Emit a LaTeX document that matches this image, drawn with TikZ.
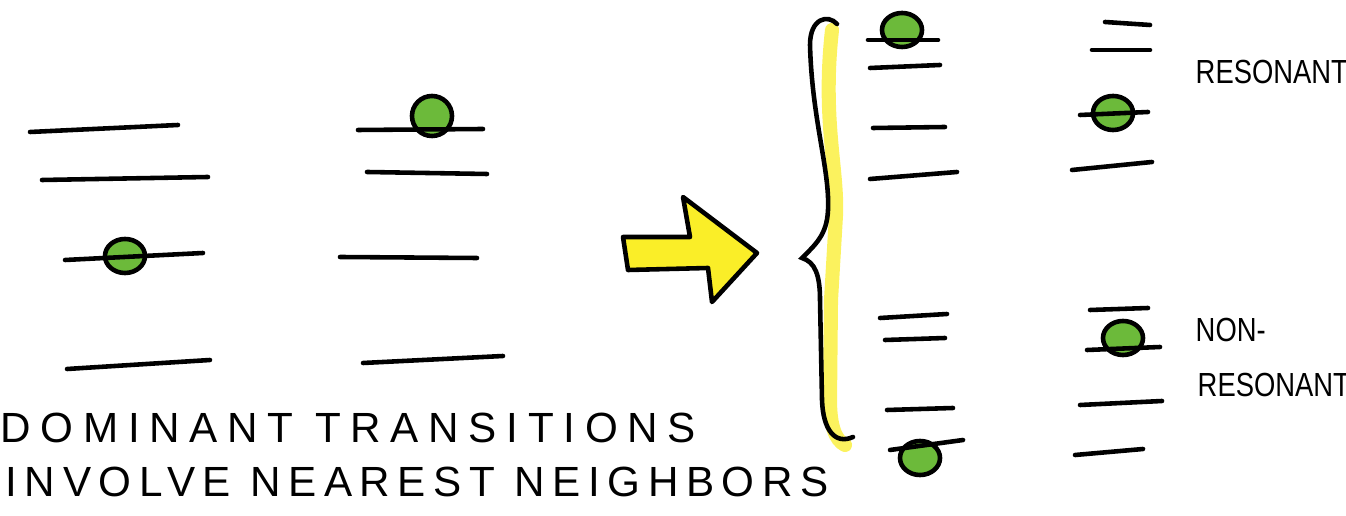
\documentclass[tikz,border=0pt]{standalone}
\usepackage{fontspec}
\usepackage{graphicx}
\setmainfont{Liberation Sans}
\usetikzlibrary{shapes.geometric}
\definecolor{dotgreen}{RGB}{108,186,58}
\definecolor{marker}{RGB}{250,238,40}
\tikzset{
  level/.style={line width=1.3pt, line cap=round},
  electron/.style={ellipse, draw, fill=dotgreen, line width=1.3pt,
                   minimum width=0.40cm, minimum height=0.34cm, inner sep=0pt},
  bigarr/.style={draw, fill=marker, line width=1.3pt, line join=round},
  bracepath/.style={line width=1.3pt, line cap=round},
  glow/.style={marker, line width=4pt, line cap=round, opacity=0.75},
  hand/.style={font=\fontsize{12}{14}\selectfont\addfontfeatures{LetterSpace=23},
               anchor=west, inner sep=0pt},
  tag/.style={font=\fontsize{9.5}{11}\selectfont, anchor=west, inner sep=0pt}
}
\newcommand{\squeeze}[1]{\scalebox{0.82}[1]{#1}}
\begin{document}
\begin{tikzpicture}[x=0.01cm, y=-0.01cm]
    \useasboundingbox (0,0) rectangle (1346,516);

    % left ladder
    \node[electron] (e1) at (125,256) {};
    \draw[level] (30,132) -- (178,125);
    \draw[level] (42,180) -- (208,177);
    \draw[level] (65,260) -- (203,253);
    \draw[level] (67,369) -- (210,360);

    % second ladder
    \node[electron, minimum height=0.40cm] (e2) at (432,116) {};
    \draw[level] (358,130) -- (483,129);
    \draw[level] (367,172) -- (487,174);
    \draw[level] (340,257) -- (477,258);
    \draw[level] (363,363) -- (503,356);

    % block arrow
    \draw[bigarr] (623,237) -- (690,237) -- (683,197) -- (757,253)
      -- (712,302) -- (708,268) -- (628,270) -- cycle;

    % brace with marker
    \draw[glow] (832,30) .. controls (822,120) and (838,170) .. (836,215)
      -- (831,300) -- (830,400) .. controls (830,425) and (835,440) .. (845,445);
    \draw[bracepath] (837,24) .. controls (828,14) and (810,18) .. (810,45)
      .. controls (812,120) and (830,170) .. (828,210)
      .. controls (827,235) and (815,245) .. (802,258)
      .. controls (815,262) and (820,275) .. (820,300)
      -- (822,400)
      .. controls (823,430) and (835,445) .. (853,437);

    % split ladder, left
    \node[electron] (e3) at (902,30) {};
    \node[electron] (e4) at (920,458) {};
    \draw[level] (868,40) -- (938,40);
    \draw[level] (870,68) -- (940,65);
    \draw[level] (873,128) -- (945,127);
    \draw[level] (870,179) -- (957,172);
    \draw[level] (880,318) -- (947,314);
    \draw[level] (885,340) -- (945,338);
    \draw[level] (887,410) -- (953,408);
    \draw[level] (890,450) -- (963,440);

    % split ladder, right
    \node[electron] (e5) at (1113,113) {};
    \node[electron] (e6) at (1123,338) {};
    \draw[level] (1105,22) -- (1150,25);
    \draw[level] (1092,50) -- (1150,50);
    \draw[level] (1080,115) -- (1148,112);
    \draw[level] (1072,170) -- (1152,162);
    \draw[level] (1090,310) -- (1148,308);
    \draw[level] (1087,350) -- (1160,347);
    \draw[level] (1080,405) -- (1162,401);
    \draw[level] (1075,455) -- (1143,449);

    % labels
    \node[tag] (res) at (1195,72) {\squeeze{RESONANT}};
    \node[tag] (non) at (1195,330) {\squeeze{NON-}};
    \node[tag] (nonres) at (1197,385) {\squeeze{RESONANT}};

    \node[hand] (l1) at (0,428) {DOMINANT TRANSITIONS};
    \node[hand, font=\fontsize{12}{14}\selectfont\addfontfeatures{LetterSpace=18}]
      (l2) at (5,482) {INVOLVE NEAREST NEIGHBORS};
\end{tikzpicture}
\end{document}
